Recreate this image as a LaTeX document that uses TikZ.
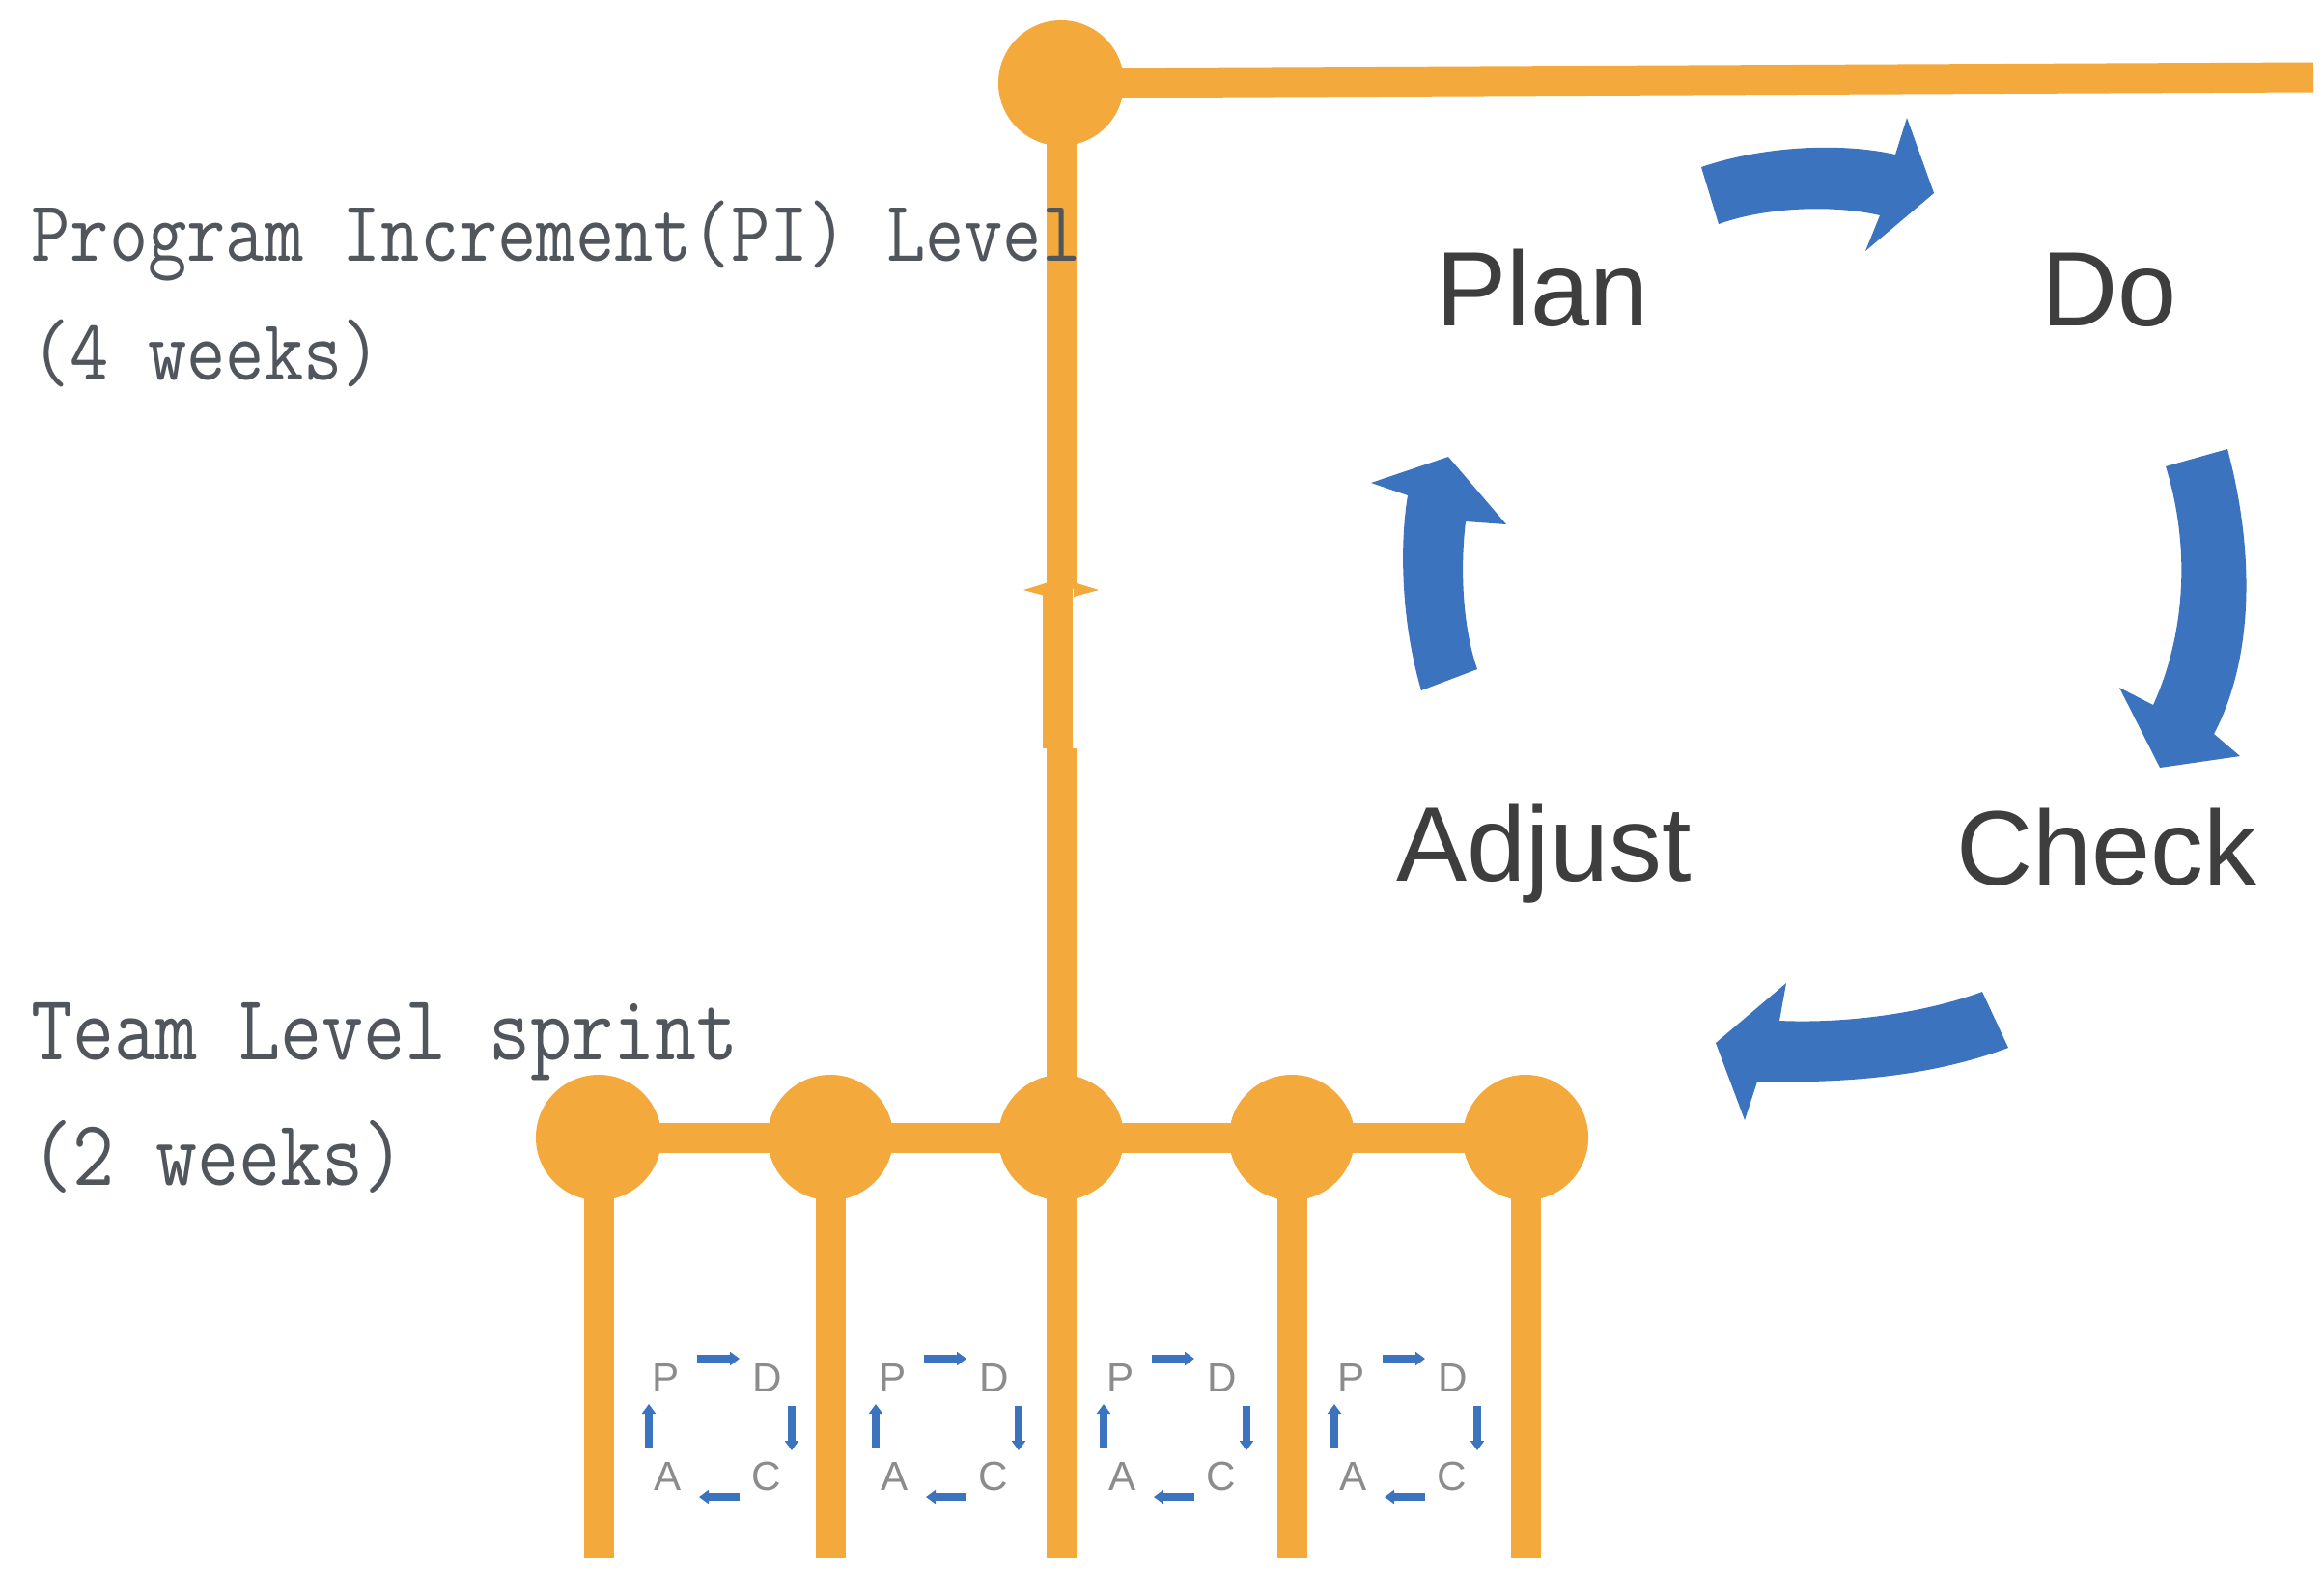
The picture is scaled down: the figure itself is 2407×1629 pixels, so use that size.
\documentclass[tikz,border=0pt]{standalone}
\usepackage{fontspec}
\newfontfamily\helv{Liberation Sans}
\usetikzlibrary{arrows.meta}
\definecolor{org}{HTML}{F3A93B}
\definecolor{pblue}{HTML}{3B73BF}
\definecolor{txtgray}{HTML}{51565C}
\definecolor{lblgray}{HTML}{3E3E3E}
\definecolor{minigray}{HTML}{8C8C8C}
\tikzset{
  minipdca/.pic={
    \node[minitxt] (-P) at (-52,-51) {P};
    \node[minitxt] (-D) at (53,-51) {D};
    \node[minitxt] (-A) at (-50,51) {A};
    \node[minitxt] (-C) at (52,51) {C};
    \draw[miniarr] (-20,-71) -- (24,-71);
    \draw[miniarr] (78,-22) -- (78,24);
    \draw[miniarr] (24,72) -- (-18,72);
    \draw[miniarr] (-70,22) -- (-70,-24);
  }
}
\begin{document}
\begin{tikzpicture}[x=0.01cm,y=-0.01cm,
  dot/.style={circle,fill=org,inner sep=0pt,minimum size=1.3cm},
  oline/.style={draw=org,line width=0.31cm},
  bigarrow/.style={fill=pblue},
  bigtxt/.style={font=\helv\fontsize{31.2}{37}\selectfont,text=lblgray,inner sep=0pt,anchor=base west},
  lvltxt/.style={text=txtgray,inner sep=0pt,anchor=base west},
  minitxt/.style={font=\helv\fontsize{12}{14}\selectfont,text=minigray,inner sep=0pt},
  miniarr/.style={draw=pblue,line width=0.08cm,-{Triangle[length=0.1cm,width=0.14cm]}}]
\useasboundingbox[fill=white] (0,0) rectangle (2407,1629);

% orange structure
\node[dot] (t) at (1099,86) {};
\coordinate (topend) at (2396,80);
\foreach \i/\x in {1/620,2/860,3/1099,4/1338,5/1580}{
  \node[dot] (b\i) at (\x,1178) {};
  \coordinate (s\i) at (\x,1613);
}
\coordinate (n1) at (1099,610);
\coordinate (n2) at (1095,610);
\coordinate (n3) at (1095,775);
\coordinate (n4) at (1099,775);

\draw[oline] (t.center) -- (topend);
\draw[oline] (t.center) -- (n1);
\draw[oline] (n2) -- (n3);
\draw[oline] (n4) -- (b3.center);
\draw[oline] (b1.center) -- (b5.center);
\foreach \i in {1,...,5}{ \draw[oline] (b\i.center) -- (s\i); }
\fill[org] (1060,611) -- (1086,603) -- (1086,618) -- cycle;
\fill[org] (1138,611) -- (1112,603) -- (1112,618) -- cycle;

% level texts
\node[lvltxt] (pi1) at (32,270) {\scalebox{0.868}[1]{\ttfamily\fontsize{25.6}{30}\selectfont Program Increment(PI) Level}};
\node[lvltxt] (pi2) at (32,393) {\scalebox{0.868}[1]{\ttfamily\fontsize{25.6}{30}\selectfont (4 weeks)}};
\node[lvltxt] (tl1) at (32,1097) {\scalebox{0.864}[1]{\ttfamily\fontsize{27.5}{32}\selectfont Team Level sprint}};
\node[lvltxt] (tl2) at (32,1227) {\scalebox{0.864}[1]{\ttfamily\fontsize{27.5}{32}\selectfont (2 weeks)}};

% big PDCA labels
\node[bigtxt] (plan) at (1487,337) {Plan};
\node[bigtxt] (do) at (2114,337) {Do};
\node[bigtxt] (adjust) at (1446,912) {Adjust};
\node[bigtxt] (check) at (2026,916) {Check};

% big PDCA arrows
\fill[bigarrow] (1762,173) .. controls (1830,150) and (1910,148) .. (1963,160) -- (1975,122) -- (2003,200) -- (1932,260) -- (1947,223) .. controls (1900,212) and (1830,214) .. (1780,232) -- cycle;
\fill[bigarrow] (2243,483) -- (2307,465) .. controls (2335,570) and (2335,680) .. (2293,760) -- (2320,783) -- (2237,795) -- (2195,712) -- (2230,730) .. controls (2262,660) and (2270,570) .. (2243,483) -- cycle;
\fill[bigarrow] (2053,1027) .. controls (1990,1050) and (1910,1060) .. (1843,1057) -- (1850,1018) -- (1777,1080) -- (1807,1160) -- (1820,1120) .. controls (1910,1122) and (2000,1115) .. (2080,1085) -- cycle;
\fill[bigarrow] (1472,715) .. controls (1450,640) and (1450,560) .. (1458,513) -- (1420,500) -- (1500,473) -- (1560,543) -- (1518,540) .. controls (1512,590) and (1515,650) .. (1530,693) -- cycle;

% mini PDCA cycles
\pic (m1) at (742,1478) {minipdca};
\pic (m2) at (977,1478) {minipdca};
\pic (m3) at (1213,1478) {minipdca};
\pic (m4) at (1452,1478) {minipdca};
\end{tikzpicture}
\end{document}
